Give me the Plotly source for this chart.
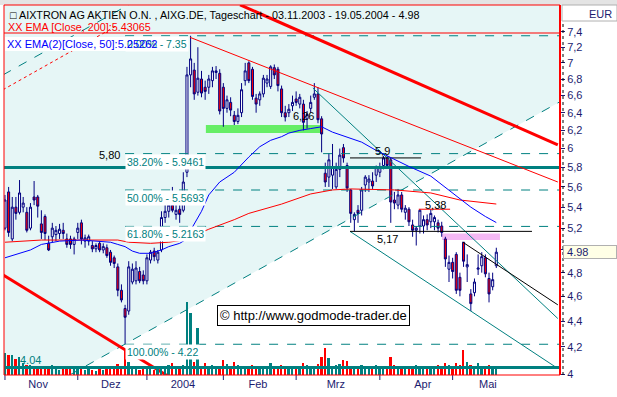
import numpy as np
import plotly.graph_objects as go

# ---------------- data ----------------
open_ = [5.20,5.55,5.10,5.40,5.35,5.40,5.35,5.20,5.50,5.50,
         5.24,5.31,5.06,5.12,5.14,5.15,5.18,5.10,5.10,5.05,
         5.16,5.25,5.08,5.08,5.04,5.01,5.06,5.00,5.02,4.98,
         4.93,4.85,4.65,4.50,4.48,4.72,4.73,4.81,4.78,4.73,
         4.91,4.99,4.91,5.00,5.30,5.36,5.42,5.33,5.38,5.37,
         5.75,6.85,6.91,6.64,6.80,6.70,6.70,6.78,6.88,6.87,
         6.70,6.45,6.52,6.37,6.30,6.40,6.78,7.00,6.92,6.57,
         6.55,6.62,6.75,6.71,6.94,6.92,6.68,6.40,6.40,6.48,
         6.56,6.50,6.50,6.33,6.45,6.58,6.62,6.33,5.74,5.70,
         5.72,5.60,5.78,6.01,5.82,5.57,5.28,5.37,5.37,5.62,
         5.65,5.66,5.72,5.75,5.82,5.90,5.88,5.47,5.42,5.52,
         5.35,5.38,5.23,5.18,5.22,5.22,5.28,5.26,5.26,5.25,
         5.22,5.10,4.83,4.89,4.96,4.76,5.07,4.85,4.62,4.63,
         4.83,4.86,4.93,4.75,4.68,4.86]
high_ = [5.52,5.60,5.50,5.50,5.67,5.50,5.40,5.44,5.66,5.52,
         5.37,5.33,5.13,5.25,5.22,5.24,5.25,5.15,5.13,5.12,
         5.25,5.28,5.14,5.14,5.08,5.06,5.08,5.06,5.05,5.00,
         4.95,4.88,4.70,4.53,4.90,4.88,4.90,4.85,4.82,4.96,
         5.00,5.02,5.00,5.36,5.45,5.50,5.60,5.45,5.42,5.75,
         6.95,7.35,7.00,7.20,6.90,6.78,6.85,6.95,6.96,6.92,
         6.75,6.60,6.58,6.42,6.45,6.75,7.00,7.02,6.95,6.62,
         6.65,6.85,6.85,6.97,6.98,6.95,6.72,6.48,6.50,6.60,
         6.65,6.62,6.55,6.42,6.60,6.75,6.70,6.36,5.85,5.95,
         6.05,5.85,6.00,6.05,5.85,5.58,5.35,5.42,5.60,5.72,
         5.72,5.75,5.82,5.85,5.92,5.92,5.90,5.55,5.58,5.55,
         5.42,5.40,5.28,5.22,5.38,5.32,5.33,5.38,5.32,5.28,
         5.26,5.12,4.95,4.93,4.98,4.80,5.07,4.96,4.66,4.75,
         4.96,4.98,4.96,4.80,4.80,5.02]
low_ = [5.18,5.12,5.08,5.28,5.33,5.35,5.16,5.18,5.42,5.30,
        5.10,5.09,4.99,5.07,5.08,5.10,5.10,5.02,5.01,4.96,
        5.10,5.05,5.02,5.04,4.98,4.98,4.98,4.97,4.93,4.86,
        4.84,4.60,4.55,4.22,4.45,4.70,4.70,4.71,4.70,4.70,
        4.88,4.90,4.88,4.98,5.25,5.30,5.35,5.28,5.25,5.35,
        5.70,6.70,6.55,6.60,6.58,6.55,6.62,6.70,6.80,6.38,
        6.24,6.40,6.36,6.26,6.27,6.35,6.72,6.75,6.55,6.40,
        6.48,6.58,6.70,6.68,6.80,6.65,6.35,6.30,6.35,6.42,
        6.48,6.45,6.20,6.22,6.40,6.55,6.28,5.96,5.60,5.60,
        5.58,5.58,5.70,5.85,5.55,5.25,5.17,5.25,5.32,5.55,
        5.55,5.58,5.65,5.70,5.78,5.80,5.25,5.38,5.38,5.35,
        5.28,5.22,5.12,5.04,5.15,5.15,5.18,5.20,5.18,5.16,
        5.12,4.85,4.72,4.75,4.62,4.60,4.85,4.72,4.48,4.60,
        4.78,4.80,4.76,4.55,4.65,4.84]
close_ = [5.47,5.16,5.40,5.34,5.54,5.44,5.18,5.40,5.47,5.41,
          5.16,5.15,5.00,5.20,5.18,5.19,5.15,5.05,5.05,5.10,
          5.20,5.10,5.11,5.12,5.01,5.04,5.00,5.03,4.95,4.89,
          4.88,4.65,4.57,4.43,4.85,4.83,4.84,4.73,4.73,4.93,
          4.98,4.94,4.98,5.30,5.36,5.42,5.37,5.37,5.33,5.65,
          6.85,7.05,6.62,6.81,6.63,6.65,6.80,6.90,6.90,6.42,
          6.45,6.55,6.43,6.30,6.37,6.67,6.90,6.78,6.59,6.50,
          6.62,6.81,6.80,6.95,6.85,6.72,6.40,6.35,6.44,6.52,
          6.52,6.58,6.29,6.38,6.52,6.62,6.32,6.16,5.65,5.88,
          5.80,5.78,5.93,5.90,5.59,5.34,5.33,5.34,5.57,5.70,
          5.68,5.61,5.80,5.80,5.90,5.82,5.45,5.44,5.52,5.38,
          5.39,5.26,5.18,5.20,5.37,5.28,5.23,5.34,5.30,5.20,
          5.16,4.92,4.89,4.81,4.65,4.65,4.90,4.87,4.54,4.72,
          4.84,4.94,4.79,4.62,4.74,4.98]
volume = [440,400,400,320,360,240,200,200,160,140,
          180,140,160,200,120,100,140,120,160,160,
          140,120,100,120,100,80,120,100,140,160,
          120,220,180,500,260,140,120,100,160,140,
          120,100,160,180,140,200,240,180,160,200,
          1460,1240,260,940,180,240,160,200,140,160,
          300,220,160,260,200,180,140,160,200,140,
          160,120,140,240,180,160,200,140,120,160,
          140,160,240,200,160,180,220,360,540,340,
          160,200,220,300,280,160,140,160,200,180,
          140,160,200,140,120,160,360,200,140,160,
          120,140,160,200,120,140,160,140,120,200,
          160,240,200,160,240,200,500,260,200,160,
          240,180,160,200,140,180]
volume_avg = 150
days = list(range(len(close_)))

ema50_days = [0,7,10,12,15,21,26,29,31,33,35,37,40,43,45,48,50,51,54,56,59,63,67,70,73,76,78,81,84,87,90,93,98,102,106,111,117,122,128,132,135]
ema50_vals = [4.93,5.00,5.05,5.06,5.08,5.09,5.08,5.07,5.05,5.03,4.99,4.97,4.97,5.00,5.03,5.06,5.10,5.18,5.36,5.52,5.65,5.75,5.91,6.02,6.09,6.13,6.17,6.20,6.22,6.24,6.18,6.14,6.07,5.98,5.90,5.81,5.71,5.57,5.40,5.31,5.25262]
ema200_days = [0,10,21,31,34,40,45,49,56,63,67,76,84,90,95,107,117,125,135]
ema200_vals = [5.07,5.09,5.09,5.09,5.07,5.06,5.07,5.09,5.19,5.28,5.34,5.43,5.53,5.57,5.58,5.57,5.54,5.47,5.43065]

fib_pct = ["0.00%", "38.20%", "50.00%", "61.80%", "100.00%"]
fib_val = [7.35, 5.9461, 5.5693, 5.2163, 4.22]
fib_start_day = 33
right_day = 153

month_tick_days = [0, 20, 39, 60, 80, 103, 123]
month_label_days = [9.1, 29.1, 48.9, 69.5, 90.9, 114.8, 132.7]
month_labels = ["Nov", "Dez", "2004", "Feb", "Mrz", "Apr", "Mai"]

price_ticks = [4.0,4.2,4.4,4.6,4.8,5.0,5.2,5.4,5.6,5.8,6.0,6.2,6.4,6.6,6.8,7.0,7.2,7.4]
price_tick_text = ["4","4,2","4,4","4,6","4,8","","5,2","5,4","5,6","5,8","6","6,2","6,4","6,6","6,8","7","7,2","7,4"]

# trend lines (day, price) end points
red_thick_top = ([64.6, 151.9], [7.77, 6.04])
red_thick_low = ([-0.55, 44.5], [4.78, 3.99])
red_thin = ([50.8, 151.9], [7.33, 5.65])
red_dotted = ([-0.55, 30.2], [6.67, 7.47])
teal_desc_a = ([84.6, 151.9], [6.69, 4.42])
teal_desc_b = ([94.8, 151.9], [5.17, 4.04])
channel_low = ([17.9, 153.0], [3.995, 6.54])
channel_up = ([-0.55, 34.3], [6.85, 7.78])
black_desc = ([125.8, 151.9], [5.07, 4.53])
level_590 = ([94.8, 114.3], [5.9, 5.9])
level_517 = ([94.8, 144.8], [5.17, 5.17])
level_538 = ([113.7, 122.3], [5.38, 5.38])
level_580 = 5.80
green_zone = ([55.2, 86.8], [6.17, 6.26])
pink_zone = ([120.1, 136.0], [5.09, 5.15])

# ---------------- figure ----------------
TEAL = "#008080"
NAVY = "#1c1c70"
FONT = "Liberation Sans, Arial, sans-serif"
Y_LO, Y_HI = np.log10(3.993), np.log10(7.768)

def yp(price):
    return (np.log10(price) - Y_LO) / (Y_HI - Y_LO)

fig = go.Figure()

def line(xs, ys, color, width=1, dash="solid", yaxis="y"):
    fig.add_trace(go.Scatter(x=xs, y=ys, mode="lines", yaxis=yaxis,
                             line=dict(color=color, width=width, dash=dash),
                             hoverinfo="skip", showlegend=False))

for v in fib_val:
    line([fib_start_day, right_day], [v, v], TEAL, 1, "dash")
line([-1, right_day], [level_580, level_580], TEAL, 3)

line(*channel_low, TEAL, 1, "dash")
line(*channel_up, TEAL, 1, "dash")
line(*red_dotted, "#ff0000", 1, "dot")
line(*teal_desc_a, TEAL, 1)
line(*teal_desc_b, TEAL, 1)
line(*red_thin, "#ff0000", 1)
line(*red_thick_top, "#ff0000", 3)
line(*red_thick_low, "#ff0000", 3)
line(*black_desc, "black", 1)
line(*level_590, "black", 1)
line(*level_517, "black", 1)
line(*level_538, "#ff0000", 1)

fig.add_trace(go.Candlestick(
    x=days, open=open_, high=high_, low=low_, close=close_,
    increasing=dict(line=dict(color="#000080", width=1), fillcolor="white"),
    decreasing=dict(line=dict(color="#000080", width=1), fillcolor="#ff0000"),
    whiskerwidth=0, hoverinfo="skip", showlegend=False))

line(ema200_days, ema200_vals, "#ff0000", 1)
line(ema50_days, ema50_vals, "#0000ff", 1)

vol_colors = [TEAL if c >= o else "#ff0000" for o, c in zip(open_, close_)]
fig.add_trace(go.Bar(x=days, y=volume, yaxis="y2", marker=dict(color=vol_colors, line=dict(width=0)),
                     width=0.5, hoverinfo="skip", showlegend=False))
line([-1, right_day], [volume_avg, volume_avg], TEAL, 3, yaxis="y2")

# ---------------- layout ----------------
W, H = 617, 397
L, R, T, B = 4, 57, 5, 22
pw, ph = W - L - R, H - T - B
def px(x):
    return (x - L) / pw
def py(y):
    return (H - B - y) / ph

fig.update_layout(
    width=W, height=H, margin=dict(l=L, r=R, t=T, b=B),
    paper_bgcolor="white", plot_bgcolor="#e6f6f6",
    font=dict(family=FONT, size=11, color=NAVY),
    showlegend=False, bargap=0, boxgap=0.2,
    xaxis=dict(range=[-0.27, 152.5], tickmode="array", tickvals=month_label_days,
               ticktext=month_labels, ticks="", showgrid=False, zeroline=False,
               showline=False, rangeslider=dict(visible=False),
               tickfont=dict(size=11, color=NAVY, family=FONT), ticklabelstandoff=1),
    yaxis=dict(type="log", range=[Y_LO, Y_HI], side="right",
               tickmode="array", tickvals=price_ticks, ticktext=price_tick_text,
               ticks="outside", ticklen=4, tickcolor=NAVY, showgrid=False, zeroline=False,
               showline=False, tickfont=dict(size=11, color=NAVY, family=FONT)),
    yaxis2=dict(overlaying="y", range=[0, 7400], visible=False),
)

shapes = []
# white area below the lower channel line (drawn under the marks)
(cx0, cx1), (cy0, cy1) = channel_low
shapes.append(dict(type="path", xref="x", yref="paper", layer="below",
                   path="M %f,%f L %f,%f L %f,%f L %f,%f Z" % (cx0, yp(cy0), cx1, yp(cy1), cx1, -0.05, cx0, -0.05),
                   fillcolor="white", line=dict(width=0)))
for (zx, zy), col in [(green_zone, "#66ee66"), (pink_zone, "#f4b8f4")]:
    shapes.append(dict(type="rect", xref="x", yref="paper", layer="below",
                       x0=zx[0], x1=zx[1], y0=yp(zy[0]), y1=yp(zy[1]),
                       fillcolor=col, line=dict(width=0)))
# top grey strip
shapes.append(dict(type="rect", xref="paper", yref="paper", x0=px(0), x1=px(W), y0=py(5), y1=py(0),
                   fillcolor="#e4e4e4", line=dict(width=0), layer="above"))
# month ticks
for d in month_tick_days:
    shapes.append(dict(type="line", xref="x", yref="paper", x0=d, x1=d, y0=0, y1=-5 / ph,
                       line=dict(color=NAVY, width=1)))
# white box behind the EMA(50) legend text
shapes.append(dict(type="rect", xref="paper", yref="paper", x0=px(5), x1=px(126), y0=py(51), y1=py(37),
                   fillcolor="white", line=dict(width=0), layer="above"))
# frame
shapes.append(dict(type="rect", xref="paper", yref="paper", x0=0, x1=1, y0=0, y1=1,
                   line=dict(color="#ff0000", width=1), layer="above"))
shapes.append(dict(type="line", xref="paper", yref="paper", x0=1, x1=1, y0=0, y1=1,
                   line=dict(color="#ff0000", width=2), layer="above"))
shapes.append(dict(type="line", xref="paper", yref="paper", x0=0, x1=1, y0=py(33), y1=py(33),
                   line=dict(color="#ff0000", width=1), layer="above"))
# dotted axis line on the right
shapes.append(dict(type="line", xref="paper", yref="paper", x0=px(563), x1=px(563), y0=0, y1=py(22),
                   line=dict(color="black", width=1, dash="dot")))
# EUR box
shapes.append(dict(type="rect", xref="paper", yref="paper", x0=px(562), x1=px(617), y0=py(21), y1=py(5),
                   fillcolor="white", line=dict(color="#b0b0b0", width=1)))
fig.update_layout(shapes=shapes)

ann = []
ann.append(dict(xref="paper", yref="paper", x=px(8), y=py(15), xanchor="left", yanchor="middle",
                text="\u25a1 AIXTRON AG AKTIEN O.N. , AIXG.DE, Tageschart - 03.11.2003 - 19.05.2004 - 4.98",
                showarrow=False, font=dict(size=10.8, color="black", family=FONT)))
ann.append(dict(xref="paper", yref="paper", x=px(6), y=py(27), xanchor="left", yanchor="middle",
                text="XX EMA [Close, 200]:%s" % ema200_vals[-1], showarrow=False,
                font=dict(size=10.8, color="#ff0000", family=FONT)))
for p, v in zip(fib_pct, fib_val):
    ann.append(dict(x=fib_start_day, y=np.log10(v), xanchor="left", yanchor="top",
                    text="%s - %s" % (p, v), showarrow=False, bgcolor="white", borderpad=1,
                    font=dict(size=10.5, color=TEAL, family=FONT)))
ann.append(dict(xref="paper", yref="paper", x=px(5), y=py(44), xanchor="left", yanchor="middle",
                text="XX EMA(2)[Close, 50]:%s" % ema50_vals[-1], showarrow=False,
                borderpad=1, font=dict(size=11, color="#0000ff", family=FONT)))
labels = [("5,80", 28.6, 5.93, "black"), ("5,9", 103.6, 5.97, "black"), ("5,38", 118.4, 5.42, "black"),
          ("5,17", 105.2, 5.10, "black"), ("6,26", 82.0, 6.36, "black"), ("4.04", 6.9, 4.10, TEAL)]
for t, xd, yd, c in labels:
    ann.append(dict(x=xd, y=np.log10(yd), text=t, showarrow=False, xanchor="center", yanchor="middle",
                    font=dict(size=11, color=c, family=FONT)))
ann.append(dict(xref="paper", yref="paper", x=px(313.5), y=py(315.5), xanchor="center", yanchor="middle",
                text="\u00a9 http://www.godmode-trader.de", showarrow=False, bgcolor="white",
                bordercolor="black", borderwidth=1, borderpad=2,
                font=dict(size=13, color="black", family=FONT)))
ann.append(dict(xref="paper", yref="paper", x=px(614), y=py(14), xanchor="right", yanchor="middle",
                text="EUR", showarrow=False, font=dict(size=11, color=NAVY, family=FONT)))
ann.append(dict(xref="paper", y=np.log10(close_[-1]), x=px(563), xanchor="left", yanchor="middle",
                text=" %.2f" % close_[-1], showarrow=False, width=52, align="left",
                bgcolor="#ffffe6", bordercolor="#b0b0b0", borderwidth=1, borderpad=0,
                font=dict(size=11, color=NAVY, family=FONT)))
fig.update_layout(annotations=ann)

fig.write_html("out.html", config={"displayModeBar": False},
               post_script="document.body.style.margin='0';document.body.style.overflow='hidden';")
